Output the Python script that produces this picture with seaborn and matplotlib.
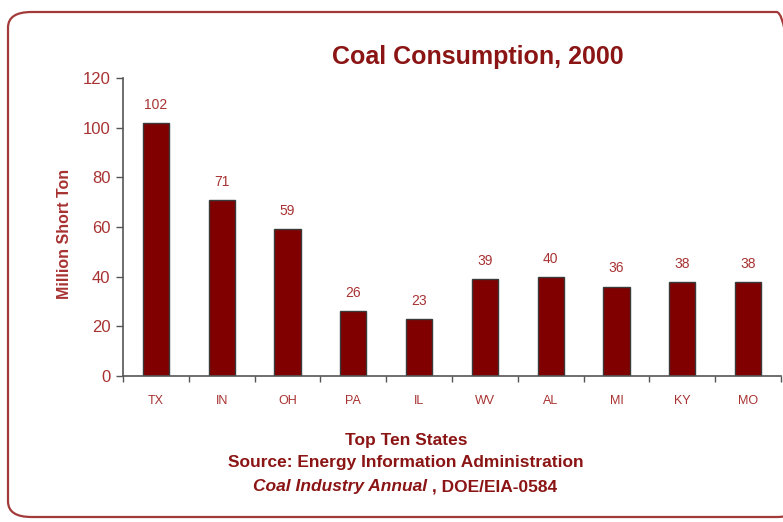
import matplotlib
matplotlib.use("Agg")
import matplotlib.pyplot as plt
import seaborn as sns
import pandas as pd
from matplotlib.patches import FancyBboxPatch
from matplotlib.ticker import FixedLocator

states = ["TX", "IN", "OH", "PA", "IL", "WV", "AL", "MI", "KY", "MO"]
values = [102, 71, 59, 26, 23, 39, 40, 36, 38, 38]
yticks = [0, 20, 40, 60, 80, 100, 120]

df = pd.DataFrame({"state": states, "value": values})

sns.set_theme(style="white")
plt.rcParams["font.family"] = ["Liberation Sans", "DejaVu Sans"]

W, H = 783, 522
fig = plt.figure(figsize=(W / 100, H / 100), dpi=100)
fig.patch.set_facecolor("white")

# rounded frame
frame = FancyBboxPatch((8 / W, 1 - 517 / H), (800 - 8) / W, (517 - 12) / H,
                       boxstyle="round,pad=0,rounding_size=0.03",
                       transform=fig.transFigure, fill=False,
                       edgecolor="#a33a3a", linewidth=1.6, clip_on=False)
fig.patches.append(frame)

ax_left, ax_right = 123 / W, 781 / W
ax_top, ax_bot = 1 - 78 / H, 1 - 376 / H
ax = fig.add_axes([ax_left, ax_bot, ax_right - ax_left, ax_top - ax_bot])

sns.barplot(data=df, x="state", y="value", ax=ax, color="#800000",
            width=0.4, edgecolor="#3a3a3a", linewidth=1.0, saturation=1)

ax.set_ylim(0, 120)
ax.set_xlim(-0.5, len(states) - 0.5)
ax.set_yticks(yticks)
ax.set_yticklabels([str(t) for t in yticks])

lab_col = "#a83232"
for i, v in enumerate(values):
    ax.annotate(str(v), (i, v), xytext=(0, 8), textcoords="offset points",
                ha="center", va="bottom", fontsize=10, color=lab_col)

for s in ["top", "right"]:
    ax.spines[s].set_visible(False)
for s in ["left", "bottom"]:
    ax.spines[s].set_color("#555555")
    ax.spines[s].set_linewidth(1.2)

ax.tick_params(axis="y", which="major", left=True, length=5, width=1,
               color="#555555", labelsize=12, labelcolor=lab_col, pad=4)
ax.tick_params(axis="x", which="major", bottom=False, labelsize=9,
               labelcolor=lab_col, pad=8)
ax.xaxis.set_minor_locator(FixedLocator([i + 0.5 for i in range(-1, len(states))]))
ax.tick_params(axis="x", which="minor", bottom=True, length=4, width=1,
               color="#555555")
ax.set_xlabel("")
ax.set_ylabel("Million Short Ton", fontsize=11.5, fontweight="bold",
              color=lab_col, labelpad=12)
ax.yaxis.set_label_coords(-0.078, 0.477)
ax.grid(False)

title_col = "#8b1414"
fig.text(478 / W, 1 - 57 / H, "Coal Consumption, 2000", ha="center",
         va="center", fontsize=18, fontweight="bold", color=title_col)

fig.text(406 / W, 1 - 440 / H, "Top Ten States", ha="center", va="center",
         fontsize=12.5, fontweight="bold", color=title_col)
fig.text(406 / W, 1 - 463 / H, "Source: Energy Information Administration",
         ha="center", va="center", fontsize=12.5, fontweight="bold",
         color=title_col)

# third line: italic part + normal part, centered together
fig.canvas.draw()
r = fig.canvas.get_renderer()
t1 = fig.text(0, 1 - 487 / H, "Coal Industry Annual", ha="left", va="center",
              fontsize=12.5, fontweight="bold", style="italic", color=title_col)
t2 = fig.text(0, 1 - 487 / H, " , DOE/EIA-0584", ha="left", va="center",
              fontsize=12.5, fontweight="bold", color=title_col)
w1 = t1.get_window_extent(r).width / W
w2 = t2.get_window_extent(r).width / W
x0 = 405 / W - (w1 + w2) / 2
t1.set_x(x0)
t2.set_x(x0 + w1)

fig.savefig("out.png", dpi=100, facecolor="white")
